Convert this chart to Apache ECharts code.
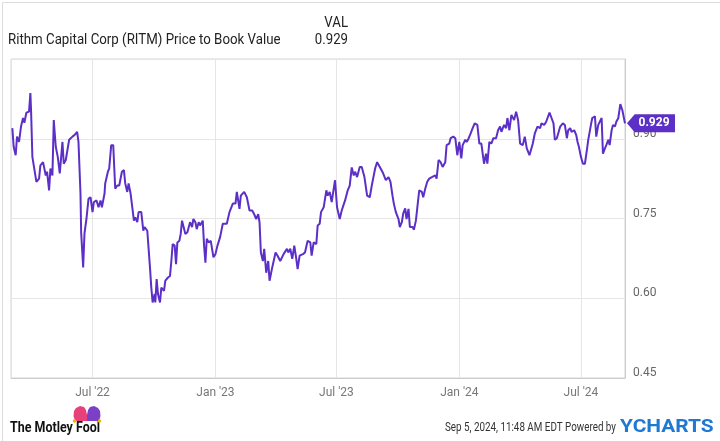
<!DOCTYPE html>
<html>
<head>
<meta charset="utf-8">
<script src="https://cdn.jsdelivr.net/npm/echarts@6/dist/echarts.min.js"></script>
<style>
  html, body { margin: 0; padding: 0; background: #fff; }
  #main { width: 720px; height: 441px; }
</style>
</head>
<body>
<div id="main"></div>
<script>
// RITM price to book value
// days counted from 2022-03-01
const dayOffsets = [
  2,4,7,9,12,15,18,20,23,27,29,30,32,34,38,42,44,48,52,54,57,59,62,64,67,70,73,77,79,82,
  84,87,92,95,99,101,104,105,108,110,113,115,116,119,122,124,128,131,134,136,140,141,145,147,150,153,156,159,162,166,
  169,171,174,176,179,181,184,186,189,191,195,198,200,204,208,210,212,215,216,218,220,223,225,229,231,235,238,240,242,245,
  247,249,252,254,256,258,261,264,268,271,273,276,278,281,283,287,289,291,293,296,299,303,306,309,313,
  317,323,327,332,336,338,342,344,349,353,357,361,364,367,370,372,374,377,379,382,385,387,391,393,396,399,403,408,413,415,
  418,421,424,427,429,432,437,440,444,448,450,453,457,459,462,464,468,472,474,477,480,485,488,492,495,500,504,507,510,513,
  515,518,522,525,529,533,537,540,545,548,552,557,561,565,568,571,573,576,580,582,585,587,590,592,595,597,601,603,606,608,
  611,615,617,620,623,626,630,635,637,640,643,646,650,652,656,658,662,665,668,671,
  674,676,680,682,684,688,691,694,698,701,704,708,711,713,716,719,722,726,729,732,734,738,741,743,746,749,753,756,759,762,
  766,769,772,776,778,781,784,788,792,794,798,801,803,806,809,812,814,817,819,822,826,829,832,834,837,839,843,846,848,850,
  853,856,859,862,864,868,870,874,876,879,881,884,886,889,891,894,896,899,901,904,906,909,912,915,918,919
];
const pbValues = [
  0.920,0.885,0.869,0.904,0.894,0.923,0.939,0.930,0.949,0.951,0.986,0.954,0.866,0.866,0.819,0.825,0.850,0.856,0.831,0.838,
  0.803,0.844,0.831,0.935,0.885,0.866,0.835,0.894,0.853,0.860,0.860,0.898,0.904,0.907,0.913,0.894,0.797,0.724,0.658,0.722,
  0.750,0.752,0.787,0.790,0.762,0.781,0.784,0.771,0.784,0.771,0.797,0.816,0.838,0.844,0.888,0.888,0.806,0.812,0.812,0.838,
  0.841,0.816,0.800,0.816,0.797,0.797,0.746,0.752,0.743,0.762,0.762,0.727,0.734,0.727,0.658,0.620,0.592,0.608,0.592,0.636,
  0.608,0.592,0.620,0.614,0.633,0.639,0.642,0.670,0.702,0.699,0.664,0.705,0.708,0.721,0.746,0.743,0.721,0.724,0.743,0.734,
  0.749,0.743,0.730,0.743,0.737,0.746,0.699,0.667,0.712,0.705,0.708,0.677,0.683,0.699,0.715,
  0.740,0.740,0.762,0.778,0.778,0.800,0.768,0.793,0.800,0.790,0.765,0.765,0.758,0.749,0.758,0.743,0.686,0.670,0.693,0.648,
  0.670,0.633,0.658,0.655,0.686,0.680,0.670,0.683,0.693,0.686,0.693,0.674,0.699,0.674,0.655,0.680,0.683,0.686,0.708,0.705,
  0.680,0.705,0.702,0.737,0.740,0.762,0.771,0.803,0.793,0.800,0.781,0.822,0.771,0.749,0.765,0.784,0.803,0.812,0.846,0.831,
  0.838,0.828,0.847,0.847,0.828,0.793,0.790,0.812,0.844,0.856,0.847,0.835,0.822,0.828,0.819,0.793,0.778,0.762,0.749,0.734,
  0.743,0.759,0.769,0.749,0.768,0.734,0.734,0.729,0.746,0.748,0.803,0.800,0.790,0.806,0.819,0.825,0.828,0.831,0.825,0.860,
  0.856,0.847,0.856,0.888,0.891,0.901,0.904,0.901,0.869,0.894,
  0.863,0.888,0.898,0.894,0.898,0.910,0.920,0.929,0.926,0.891,0.891,0.853,0.872,0.853,0.894,0.891,0.901,0.901,0.916,0.923,
  0.913,0.926,0.920,0.939,0.916,0.945,0.935,0.951,0.935,0.891,0.888,0.904,0.882,0.869,0.866,0.891,0.910,0.923,0.920,0.929,
  0.926,0.932,0.935,0.949,0.939,0.929,0.898,0.901,0.898,0.923,0.929,0.926,0.901,0.916,0.920,0.913,0.916,0.907,0.894,0.885,
  0.866,0.853,0.853,0.879,0.898,0.926,0.939,0.942,0.904,0.926,0.923,0.939,0.872,0.882,0.888,0.898,0.888,0.916,0.926,0.923,
  0.932,0.939,0.965,0.954,0.935,0.929
];
const monthNames = ['Jan','Feb','Mar','Apr','May','Jun','Jul','Aug','Sep','Oct','Nov','Dec'];
const lastValue = 0.929;

function dayTime(d) { return new Date(2022, 2, 1 + d).getTime(); }

const seriesData = dayOffsets.map((d, i) => [dayTime(d), pbValues[i]]);
const lastPoint = seriesData[seriesData.length - 1];

const purple = '#5c2fc6';

const chart = echarts.init(document.getElementById('main'));

chart.setOption({
  animation: false,
  textStyle: { fontFamily: 'Roboto' },
  grid: {
    left: 11, right: 95, top: 59, bottom: 63,
    show: true, borderColor: '#d4d4d4', borderWidth: 1
  },
  xAxis: {
    type: 'time',
    min: dayTime(0),
    max: new Date(2024, 8, 5).getTime(),
    splitNumber: 5,
    axisLine: { show: true, lineStyle: { color: '#ccc' } },
    axisTick: { show: false },
    axisLabel: {
      color: '#777',
      fontSize: 12,
      margin: 9,
      showMinLabel: false,
      showMaxLabel: false,
      formatter: function (v) {
        const d = new Date(v);
        return monthNames[d.getMonth()] + " '" + String(d.getFullYear()).slice(2);
      }
    },
    splitLine: { show: true, lineStyle: { color: '#e6e6e6' } }
  },
  yAxis: {
    type: 'value',
    position: 'right',
    min: 0.45,
    max: 1.05,
    interval: 0.15,
    axisLine: { show: true, lineStyle: { color: '#ccc' } },
    axisTick: { show: false },
    axisLabel: {
      color: '#666',
      fontSize: 12,
      margin: 8,
      verticalAlign: 'bottom',
      lineHeight: 10,
      formatter: function (v) { return v > 1 ? '' : v.toFixed(2); }
    },
    splitLine: { show: true, lineStyle: { color: '#e6e6e6' } }
  },
  series: [{
    type: 'line',
    data: seriesData,
    showSymbol: false,
    symbol: 'none',
    lineStyle: { color: purple, width: 2 },
    markPoint: {
      symbol: 'path://M0,9 L8,0 L50,0 L50,18 L8,18 Z',
      symbolSize: [48, 18],
      symbolOffset: [26, 0],
      symbolKeepAspect: false,
      itemStyle: { color: purple },
      label: {
        show: true,
        color: '#fff',
        fontWeight: 'bold',
        fontSize: 12,
        offset: [3, 0],
        formatter: function (p) { return p.value.toFixed(3); }
      },
      data: [{ coord: lastPoint, value: lastValue }]
    }
  }],
  graphic: [
    { type: 'rect', left: 0, top: 0, z: 100, silent: true,
      shape: { x: 0.5, y: 0.5, width: 719, height: 440 },
      style: { fill: 'none', stroke: '#dcdcdc', lineWidth: 1 } },
    { type: 'text', x: 348, y: 23, scaleX: 0.88,
      style: { text: 'VAL', fill: '#222', font: '15px Roboto', align: 'right', verticalAlign: 'middle' } },
    { type: 'text', x: 8, y: 40, scaleX: 0.885,
      style: { text: 'Rithm Capital Corp (RITM) Price to Book Value', fill: '#222', font: '15px Roboto', verticalAlign: 'middle' } },
    { type: 'text', x: 348, y: 40, scaleX: 0.88,
      style: { text: lastValue.toFixed(3), fill: '#222', font: '15px Roboto', align: 'right', verticalAlign: 'middle' } },
    // Motley Fool logo
    { type: 'text', x: 10, y: 428, scaleX: 0.83,
      style: { text: 'The Motley Fool', fill: '#111', font: 'bold 15px Roboto', verticalAlign: 'middle' } },
    { type: 'polygon',
      shape: { points: [[75, 421], [73.5, 416], [74, 411], [76, 408], [80, 406], [84, 407], [86, 410], [87, 415], [87, 421]] },
      style: { fill: '#e8407a' } },
    { type: 'polygon',
      shape: { points: [[87, 421], [87, 415], [88, 410], [90, 407], [94, 406], [98, 408], [100, 411], [100.5, 416], [99, 421]] },
      style: { fill: '#7b3fc8' } },
    { type: 'circle', shape: { cx: 74.5, cy: 421, r: 1.8 }, style: { fill: '#f2b705' } },
    { type: 'circle', shape: { cx: 99.5, cy: 421, r: 1.8 }, style: { fill: '#f2b705' } },
    // footer right
    { type: 'text', x: 616, y: 428, scaleX: 0.82,
      style: { text: 'Sep 5, 2024, 11:48 AM EDT Powered by', fill: '#333', font: '12px Roboto', align: 'right', verticalAlign: 'middle' } },
    { type: 'text', x: 620, y: 427, scaleX: 1.1,
      style: { text: 'YCHARTS', fill: '#1f78d1', font: 'bold 19px Roboto', verticalAlign: 'middle' } }
  ]
});

window.addEventListener('resize', function () { chart.resize(); });
</script>
</body>
</html>
